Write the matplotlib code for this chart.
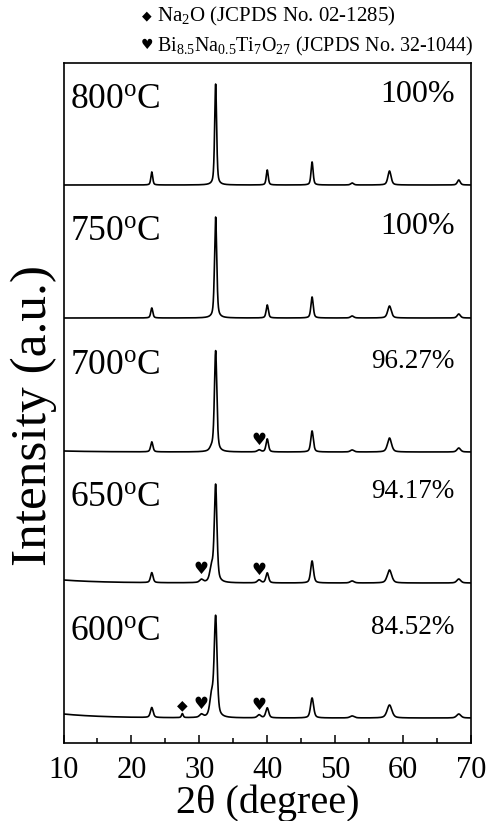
import numpy as np
import matplotlib
matplotlib.use("Agg")
import matplotlib.pyplot as plt
from matplotlib.ticker import MultipleLocator

plt.rcParams['font.family'] = ['Liberation Serif', 'DejaVu Sans']
plt.rcParams['mathtext.fontset'] = 'custom'
plt.rcParams['mathtext.rm'] = 'Liberation Serif'
plt.rcParams['mathtext.it'] = 'Liberation Serif:italic'

# ---- data ----
temps = ["800", "750", "700", "650", "600"]
purity = ["100%", "100%", "96.27%", "94.17%", "84.52%"]

peak_pos_main = [23.0, 32.4, 40.0, 46.6, 52.5, 58.0, 68.2]
peak_h_800 = [13, 101, 15, 23, 2, 14, 5]
peak_h_750 = [10, 101, 13, 21, 2, 12, 4]
peak_h_700 = [10, 101, 13, 21, 2, 14, 4]
peak_h_650 = [10, 97, 10, 22, 2, 13, 4]
peak_h_600 = [10, 100, 10, 20, 2, 13, 4]
peak_w = [0.16, 0.17, 0.17, 0.18, 0.25, 0.28, 0.25]

# secondary-phase peaks: position, heights for 800,750,700,650,600
extra_pos = [27.5, 30.3, 31.8, 38.8]
extra_h_800 = [0, 0, 0, 0]
extra_h_750 = [0, 0, 0, 0]
extra_h_700 = [0, 0, 3, 2]
extra_h_650 = [0, 3, 14, 3]
extra_h_600 = [4, 3, 20, 3]
extra_w = [0.15, 0.3, 0.3, 0.3]

# low-angle background amplitude
bg_amp = [0, 0, 1, 3, 4]

# markers: (series index, 2theta, symbol)
mark_series = [4, 4, 4, 3, 3, 2]
mark_x = [27.5, 30.3, 38.8, 30.3, 38.8, 38.8]
mark_sym = ["◆", "♥", "♥", "♥", "♥", "♥"]

offsets = [558, 425, 291, 160, 25]

heights = [peak_h_800, peak_h_750, peak_h_700, peak_h_650, peak_h_600]
extras = [extra_h_800, extra_h_750, extra_h_700, extra_h_650, extra_h_600]

x = np.linspace(10, 70, 4001)


def profile(xx, c, h, w):
    lor = 1.0 / (1.0 + ((xx - c) / w) ** 2)
    gau = np.exp(-np.log(2) * ((xx - c) / w) ** 2)
    return h * (0.5 * lor + 0.5 * gau)


def pattern(i, xx):
    y = np.zeros_like(xx)
    wscale = 1.0 + 0.12 * i
    for c, h, w in zip(peak_pos_main, heights[i], peak_w):
        y += profile(xx, c, h, w * wscale)
    for c, h, w in zip(extra_pos, extras[i], extra_w):
        if h > 0:
            y += profile(xx, c, h, w)
    y += bg_amp[i] * np.exp(-(xx - 10) / 6.0)
    return y + offsets[i]


fig = plt.figure(figsize=(4.92, 8.21), dpi=100)
ax = fig.add_axes([63.5 / 492, 1 - 743 / 821, (471 - 63.5) / 492, (743 - 63) / 821])

for i in range(len(temps)):
    ax.plot(x, pattern(i, x), color='black', lw=1.2)
    ax.text(10.9, offsets[i] + 86, temps[i] + r"$^{\mathrm{o}}$C", fontsize=25.5,
            ha='left', va='center')
    ax.text(67.6, offsets[i] + 91, purity[i],
            fontsize=23 if purity[i] == "100%" else 19.5, ha='right', va='center')

for s, mx, sym in zip(mark_series, mark_x, mark_sym):
    my = pattern(s, np.array([mx]))[0]
    ax.text(mx, my + 1, sym, fontsize=10 if sym == "◆" else 12,
            family='DejaVu Sans', ha='center', va='bottom')

ax.set_xlim(10, 70)
ax.set_ylim(0, 680)
ax.set_yticks([])
ax.xaxis.set_major_locator(MultipleLocator(10))
ax.xaxis.set_minor_locator(MultipleLocator(5))
ax.tick_params(axis='x', which='major', direction='in', length=6, width=1.1,
               labelsize=22, pad=9)
ax.tick_params(axis='x', which='minor', direction='in', length=3.5, width=1.1)
for sp in ax.spines.values():
    sp.set_linewidth(1.2)

ax.set_xlabel("2θ (degree)", fontsize=29, labelpad=0)
ax.set_ylabel("Intensity (a.u.)", fontsize=37)
ax.yaxis.set_label_coords(-0.015, 0.482)

# legend lines on top
fig.text(147 / 492, 1 - 16 / 821, "◆", family='DejaVu Sans', fontsize=9,
         ha='center', va='center')
fig.text(157 / 492, 1 - 16 / 821, r"Na$_2$O (JCPDS No. 02-1285)", fontsize=15,
         ha='left', va='center')
fig.text(147 / 492, 1 - 45 / 821, "♥", family='DejaVu Sans', fontsize=10,
         ha='center', va='center')
fig.text(157 / 492, 1 - 46 / 821,
         r"Bi$_{8.5}$Na$_{0.5}$Ti$_7$O$_{27}$ (JCPDS No. 32-1044)", fontsize=14.4,
         ha='left', va='center')

fig.savefig("out.png", dpi=100)
